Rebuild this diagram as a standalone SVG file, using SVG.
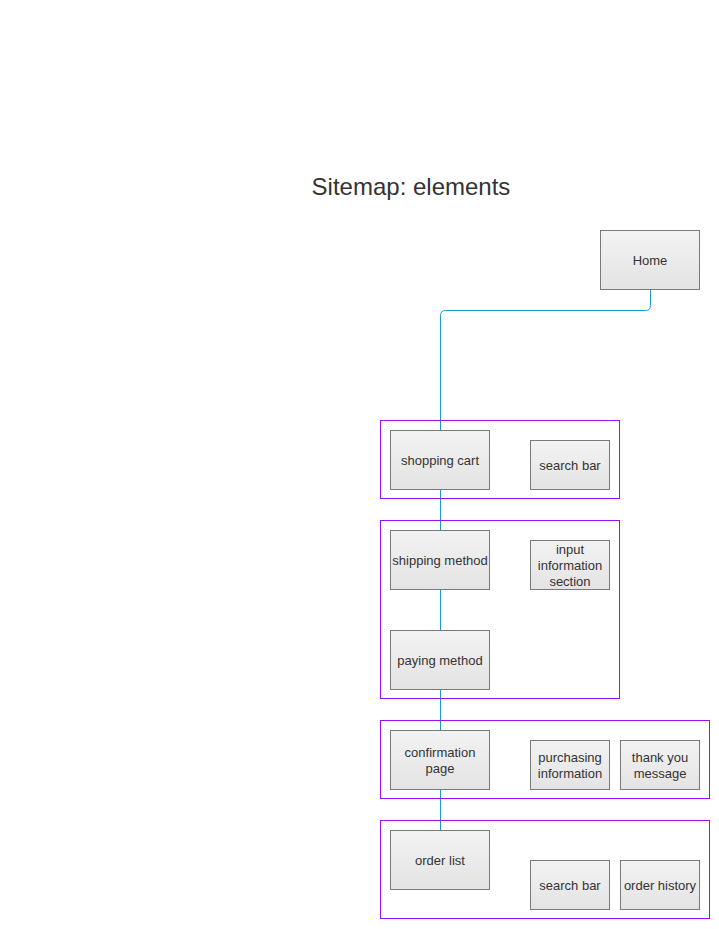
<svg xmlns="http://www.w3.org/2000/svg" width="719" height="929" viewBox="0 0 719 929">
<defs>
<linearGradient id="g" x1="0" y1="0" x2="0" y2="1">
<stop offset="0" stop-color="#f3f3f3"/>
<stop offset="1" stop-color="#e3e3e3"/>
</linearGradient>
<style>
.n{fill:url(#g);stroke:#7a7a7a;stroke-width:1}
.grp{fill:none;stroke:#9a12f0;stroke-width:1}
.t{font-family:"Liberation Sans",Arial,sans-serif;font-size:13px;fill:#333;text-anchor:middle}
.c{fill:none;stroke:#1a9bcf;stroke-width:1}
</style>
</defs>
<rect width="719" height="929" fill="#fff"/>
<text x="411" y="195" style="font-family:'Liberation Sans',Arial,sans-serif;font-size:24px;fill:#333;text-anchor:middle">Sitemap: elements</text>
<g id="connectors">
<path class="c" d="M650.5 290 V305.5 Q650.5 310.5 645.5 310.5 H445.5 Q440.5 310.5 440.5 315.5 V830"/>
</g>
<g id="group1"><rect class="grp" x="380.5" y="420.5" width="239" height="78"/></g>
<g id="group2"><rect class="grp" x="380.5" y="520.5" width="239" height="178"/></g>
<g id="group3"><rect class="grp" x="380.5" y="720.5" width="329" height="78"/></g>
<g id="group4"><rect class="grp" x="380.5" y="820.5" width="329" height="98"/></g>
<g id="home"><rect class="n" x="600.5" y="230.5" width="99" height="59"/><text class="t" x="650" y="265">Home</text></g>
<g id="shopping-cart"><rect class="n" x="390.5" y="430.5" width="99" height="59"/><text class="t" x="440" y="465">shopping cart</text></g>
<g id="search-bar-1"><rect class="n" x="530.5" y="440.5" width="79" height="49"/><text class="t" x="570" y="470">search bar</text></g>
<g id="shipping-method"><rect class="n" x="390.5" y="530.5" width="99" height="59"/><text class="t" x="440" y="565">shipping method</text></g>
<g id="input-info"><rect class="n" x="530.5" y="540.5" width="79" height="49"/><text class="t" x="570" y="554">input</text><text class="t" x="570" y="570">information</text><text class="t" x="570" y="586">section</text></g>
<g id="paying-method"><rect class="n" x="390.5" y="630.5" width="99" height="59"/><text class="t" x="440" y="665">paying method</text></g>
<g id="confirmation-page"><rect class="n" x="390.5" y="730.5" width="99" height="59"/><text class="t" x="440" y="757">confirmation</text><text class="t" x="440" y="773">page</text></g>
<g id="purchasing-info"><rect class="n" x="530.5" y="740.5" width="79" height="49"/><text class="t" x="570" y="762">purchasing</text><text class="t" x="570" y="778">information</text></g>
<g id="thank-you"><rect class="n" x="620.5" y="740.5" width="79" height="49"/><text class="t" x="660" y="762">thank you</text><text class="t" x="660" y="778">message</text></g>
<g id="order-list"><rect class="n" x="390.5" y="830.5" width="99" height="59"/><text class="t" x="440" y="865">order list</text></g>
<g id="search-bar-2"><rect class="n" x="530.5" y="860.5" width="79" height="49"/><text class="t" x="570" y="890">search bar</text></g>
<g id="order-history"><rect class="n" x="620.5" y="860.5" width="79" height="49"/><text class="t" x="660" y="890">order history</text></g>
</svg>
